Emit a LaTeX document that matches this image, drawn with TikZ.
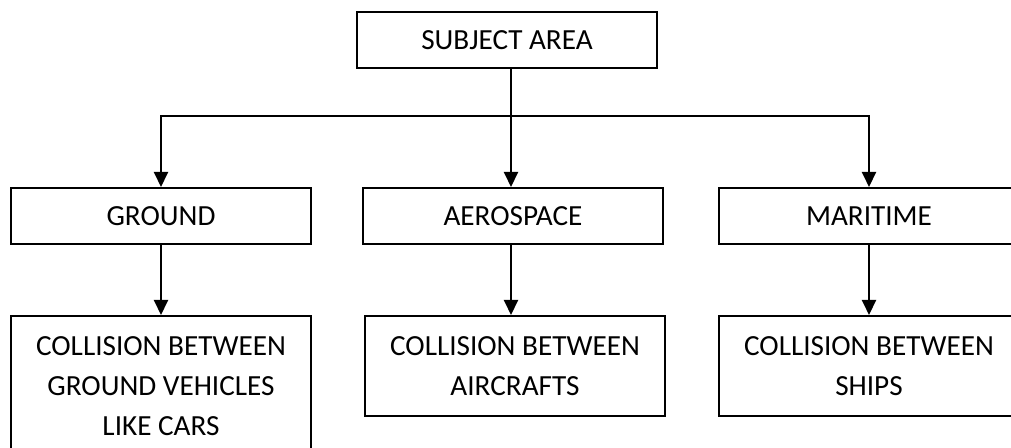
\documentclass[tikz,border=0pt]{standalone}
\usepackage{fontspec}
\setmainfont{Carlito}
\usetikzlibrary{arrows.meta}

\begin{document}
\begin{tikzpicture}[x=0.5pt,y=-0.5pt,
  box/.style={draw,line width=1pt,minimum width=150pt,minimum height=28pt,inner sep=0pt,align=center,font=\fontsize{14.6}{20}\selectfont},
  arr/.style={line width=1pt,-{Triangle[length=7.5pt,width=7pt]}}]
\useasboundingbox (0,0) rectangle (1011,448);
\clip (0,0) rectangle (1011,448);
\coordinate (bar) at (511,116);
\node[box] (area) at (507,40) {SUBJECT AREA};
\node[box] (ground) at (161,216) {GROUND};
\node[box] (aero) at (513,216) {AEROSPACE};
\node[box] (mari) at (869,216) {MARITIME};
\node[box,minimum height=70pt] (groundcol) at (161,386) {COLLISION BETWEEN\\GROUND VEHICLES\\LIKE CARS};
\node[box,minimum height=50pt] (aerocol) at (515,366) {COLLISION BETWEEN\\AIRCRAFTS};
\node[box,minimum height=50pt] (maricol) at (869,366) {COLLISION BETWEEN\\SHIPS};
\draw[line width=1pt] (area.south -| bar) -- (bar);
\draw[arr] (bar) -| (ground.north);
\draw[arr] (bar) -- (bar |- aero.north);
\draw[arr] (bar) -| (mari.north);
\draw[arr] (ground) -- (groundcol);
\draw[arr] (aero.south -| bar) -- (bar |- aerocol.north);
\draw[arr] (mari) -- (maricol);
\end{tikzpicture}
\end{document}
